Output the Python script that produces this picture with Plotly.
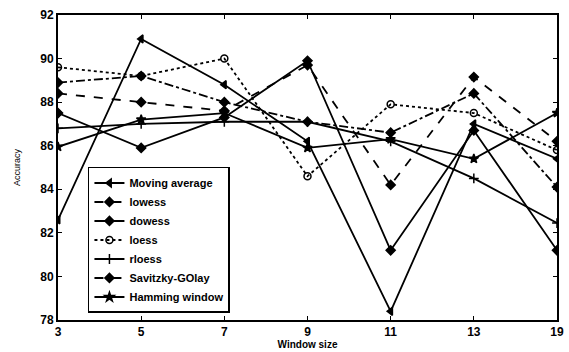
import plotly.graph_objects as go

window_sizes = ["3", "5", "7", "9", "11", "13", "19"]

moving_average = [82.6, 90.9, 88.8, 86.2, 78.4, 87.0, 85.4]
lowess = [88.9, 89.2, 88.0, 87.1, 86.6, 88.4, 84.1]
dowess = [87.5, 85.9, 87.3, 89.9, 81.2, 86.7, 81.2]
loess = [89.6, 89.2, 90.0, 84.6, 87.9, 87.5, 85.8]
rloess = [86.8, 87.0, 87.1, 87.1, 86.2, 84.5, 82.45]
savitzky_golay = [88.4, 88.0, 87.6, 89.7, 84.2, 89.15, 86.2]
hamming = [85.95, 87.2, 87.5, 85.9, 86.3, 85.4, 87.5]

y_ticks = [78, 80, 82, 84, 86, 88, 90, 92]

series = [
    ("Moving average", moving_average, "solid", "triangle-left"),
    ("lowess", lowess, "dashdot", "diamond"),
    ("dowess", dowess, "solid", "diamond"),
    ("loess", loess, "dot", "circle-open"),
    ("rloess", rloess, "solid", "cross-thin-open"),
    ("Savitzky-GOlay", savitzky_golay, "dash", "diamond"),
    ("Hamming window", hamming, "solid", "star"),
]

xidx = list(range(len(window_sizes)))

fig = go.Figure()
for name, vals, dash, sym in series:
    fig.add_trace(go.Scatter(
        x=xidx, y=vals, name=name, mode="lines+markers",
        line=dict(color="black", width=1.8, dash=dash),
        marker=dict(symbol=sym, size=7, color="black",
                    line=dict(color="black", width=1.5)),
    ))

font_main = "Liberation Sans, Arial, sans-serif"

fig.update_layout(
    width=569, height=352,
    margin=dict(l=58, r=12, t=15, b=32),
    paper_bgcolor="white", plot_bgcolor="white",
    showlegend=True,
    font=dict(family=font_main, color="black", size=11),
    legend=dict(
        x=0.06, y=0.023, xanchor="left", yanchor="bottom",
        bordercolor="black", borderwidth=1.5, bgcolor="white",
        font=dict(size=11, family=font_main, weight="bold"),
        tracegroupgap=0, itemwidth=30,
    ),
    xaxis=dict(
        range=[0, 6], tickvals=xidx, ticktext=window_sizes,
        showgrid=False, zeroline=False, automargin=False,
        showline=True, linecolor="black", linewidth=2, mirror="ticks",
        ticks="inside", ticklen=4, tickcolor="black",
        tickfont=dict(size=12, weight="bold"),
        title=dict(text="Window size", font=dict(size=10, weight="bold"), standoff=2),
    ),
    yaxis=dict(
        range=[78, 92], tickvals=y_ticks,
        showgrid=False, zeroline=False, automargin=False,
        showline=True, linecolor="black", linewidth=2, mirror="ticks",
        ticks="inside", ticklen=4, tickcolor="black",
        tickfont=dict(size=12, weight="bold"),
        title=dict(text="Accuracy", font=dict(size=9), standoff=18),
    ),
)

fig.write_html("out.html")
